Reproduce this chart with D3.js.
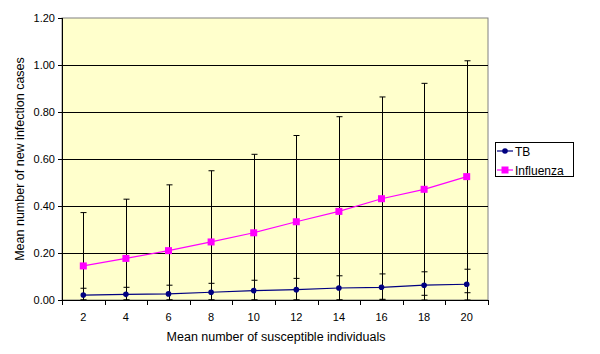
<!DOCTYPE html>
<html>
<head>
<meta charset="utf-8">
<script src="https://cdn.jsdelivr.net/npm/d3@7"></script>
<style>
  body { margin: 0; background: #fff; }
  text { font-family: "Liberation Sans", Arial, sans-serif; }
</style>
</head>
<body>
<script>
const width = 600;
const height = 354;

const tbColor = "#000080";
const fluColor = "#FF00FF";

// data
const categories = ["2", "4", "6", "8", "10", "12", "14", "16", "18", "20"];
const tbValues = [0.021, 0.024, 0.026, 0.033, 0.040, 0.044, 0.051, 0.054, 0.063, 0.067];
const tbUpper = [0.050, 0.054, 0.063, 0.071, 0.084, 0.092, 0.103, 0.111, 0.120, 0.131];
const tbLower = [0, 0, 0, 0, 0, 0, 0, 0.003, 0.020, 0.031];
const fluValues = [0.145, 0.177, 0.210, 0.247, 0.286, 0.333, 0.377, 0.431, 0.471, 0.525];
const fluUpper = [0.372, 0.429, 0.490, 0.550, 0.620, 0.700, 0.780, 0.864, 0.922, 1.018];
const fluLower = [0, 0, 0, 0, 0, 0, 0, 0, 0, 0];
const yTicks = [0, 0.2, 0.4, 0.6, 0.8, 1.0, 1.2];

const plot = { left: 62, right: 488, top: 18, bottom: 300 };

const scale = {
  x: d3.scaleBand().domain(categories).range([plot.left, plot.right]),
  y: d3.scaleLinear().domain([0, 1.2]).range([plot.bottom, plot.top])
};

const svg = d3.select("body")
  .append("svg")
  .attr("width", width)
  .attr("height", height);

appendPlotArea(svg);
appendAxes(svg);
appendErrorBars(svg, tbValues, tbUpper, tbLower);
appendErrorBars(svg, fluValues, fluUpper, fluLower);
appendSeries(svg, tbValues, tbColor, "circle");
appendSeries(svg, fluValues, fluColor, "square");
appendLabels(svg);
appendLegend(svg);

function cx(i) {
  return scale.x(categories[i]) + scale.x.bandwidth() / 2;
}

function appendPlotArea(svg) {
  svg.append("rect")
    .attr("x", plot.left)
    .attr("y", plot.top)
    .attr("width", plot.right - plot.left)
    .attr("height", plot.bottom - plot.top)
    .attr("fill", "#FFFFCC")
    .attr("stroke", "#808080")
    .attr("stroke-width", 1);

  // horizontal grid lines
  svg.append("g")
    .attr("transform", `translate(${plot.left},0)`)
    .call(d3.axisLeft(scale.y)
      .tickValues(yTicks.filter(d => d > 0 && d < 1.2))
      .tickSize(-(plot.right - plot.left))
      .tickFormat(""))
    .call(g => g.select(".domain").remove())
    .selectAll("line")
    .attr("stroke", "#000");
}

function appendAxes(svg) {
  const yAxis = svg.append("g")
    .attr("transform", `translate(${plot.left},0)`)
    .call(d3.axisLeft(scale.y)
      .tickValues(yTicks)
      .tickSize(4)
      .tickPadding(3)
      .tickFormat(d3.format(".2f")));
  yAxis.select(".domain").attr("stroke", "#000").attr("d", `M0.5,${plot.top}V${plot.bottom}`);
  yAxis.selectAll("text").style("font-size", "11px").attr("fill", "#000");

  // x axis: ticks sit between categories
  const xAxis = svg.append("g")
    .attr("transform", `translate(0,${plot.bottom})`);
  xAxis.append("line")
    .attr("x1", plot.left).attr("x2", plot.right)
    .attr("y1", 0.5).attr("y2", 0.5)
    .attr("stroke", "#000");
  const edges = categories.map((c, i) => scale.x(c)).concat([plot.right]);
  xAxis.selectAll(".xtick")
    .data(edges)
    .enter()
    .append("line")
    .attr("x1", d => Math.round(d) + 0.5)
    .attr("x2", d => Math.round(d) + 0.5)
    .attr("y1", 0)
    .attr("y2", 5)
    .attr("stroke", "#000");
  xAxis.selectAll(".xlab")
    .data(categories)
    .enter()
    .append("text")
    .attr("x", (d, i) => cx(i))
    .attr("y", 21)
    .attr("text-anchor", "middle")
    .style("font-size", "11px")
    .text(d => d);
}

function appendErrorBars(svg, values, upper, lower) {
  const g = svg.append("g").attr("stroke", "#000").attr("stroke-width", 1);
  values.forEach((v, i) => {
    const x = Math.round(cx(i)) + 0.5;
    g.append("line")
      .attr("x1", x).attr("x2", x)
      .attr("y1", scale.y(upper[i])).attr("y2", scale.y(lower[i]));
    [upper[i], lower[i]].forEach(e => {
      g.append("line")
        .attr("x1", x - 3).attr("x2", x + 3)
        .attr("y1", scale.y(e)).attr("y2", scale.y(e));
    });
  });
}

function appendSeries(svg, values, color, shape) {
  const line = d3.line()
    .x((d, i) => cx(i))
    .y(d => scale.y(d));

  svg.append("path")
    .datum(values)
    .attr("fill", "none")
    .attr("stroke", color)
    .attr("stroke-width", 1.2)
    .attr("d", line);

  appendMarkers(svg, values.map((v, i) => [cx(i), scale.y(v)]), color, shape);
}

function appendMarkers(svg, points, color, shape) {
  if (shape === "circle") {
    svg.append("g").selectAll("circle")
      .data(points)
      .enter()
      .append("circle")
      .attr("cx", d => d[0])
      .attr("cy", d => d[1])
      .attr("r", 2.8)
      .attr("fill", color);
  } else {
    svg.append("g").selectAll("rect")
      .data(points)
      .enter()
      .append("rect")
      .attr("x", d => d[0] - 3.5)
      .attr("y", d => d[1] - 3.5)
      .attr("width", 7)
      .attr("height", 7)
      .attr("fill", color);
  }
}

function appendLabels(svg) {
  // X label
  svg.append("text")
    .attr("x", (plot.left + plot.right) / 2 + 1)
    .attr("y", 341)
    .attr("text-anchor", "middle")
    .style("font-size", "12.5px")
    .text("Mean number of susceptible individuals");

  // Y label
  svg.append("text")
    .attr("transform", `translate(24,${(plot.top + plot.bottom) / 2})rotate(-90)`)
    .attr("text-anchor", "middle")
    .style("font-size", "12.5px")
    .text("Mean number of new infection cases");
}

function appendLegend(svg) {
  const items = [
    { name: "TB", color: tbColor, shape: "circle" },
    { name: "Influenza", color: fluColor, shape: "square" }
  ];

  const legend = svg.append("g").attr("transform", "translate(495,142)");

  legend.append("rect")
    .attr("x", 0.5).attr("y", 0.5)
    .attr("width", 78).attr("height", 34)
    .attr("fill", "#fff")
    .attr("stroke", "#000");

  const rows = legend.selectAll(".item")
    .data(items)
    .enter()
    .append("g")
    .attr("transform", (d, i) => `translate(0, ${9 + i * 19})`);

  rows.append("line")
    .attr("x1", 2).attr("x2", 18)
    .attr("stroke", d => d.color)
    .attr("stroke-width", 1.2);

  rows.each(function(d) {
    appendMarkers(d3.select(this), [[10, 0]], d.color, d.shape);
  });

  rows.append("text")
    .attr("x", 20)
    .attr("y", 4.5)
    .style("font-size", "12px")
    .text(d => d.name);
}
</script>
</body>
</html>
